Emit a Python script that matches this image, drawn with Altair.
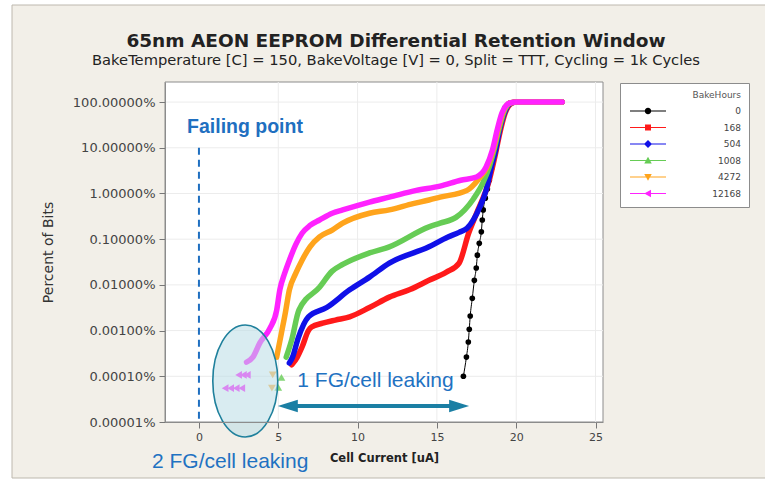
import altair as alt
import pandas as pd

# ---- series: cell current [uA] vs cumulative percent of bits ----
HOURS = ["0", "168", "504", "1008", "4272", "12168"]
COLORS = ["#000000", "#ff1a1a", "#1010e8", "#66cc55", "#ffa41c", "#ff22ff"]

x_0 = [16.67, 16.86, 16.98, 17.04, 17.10, 17.23, 17.36, 17.48, 17.55, 17.67, 17.80, 17.86,
       17.92, 18.05, 18.18, 18.30, 18.45, 18.60, 18.75, 18.90, 19.10, 19.30, 19.60]
p_0 = [1.0e-4, 2.63e-4, 5.62e-4, 1.07e-3, 2.09e-3, 5.1e-3, 0.0126, 0.0234, 0.0447, 0.081,
       0.145, 0.263, 0.437, 0.79, 1.26, 1.95, 3.55, 7.1, 14.1, 26.3, 50, 76, 95.5]

x_168 = [5.85, 6.2, 6.5, 6.9, 7.1, 7.8, 8.6, 9.5, 10.75, 12.0, 13.3, 14.5, 15.6, 16.4, 17.0,
         17.5, 18.3, 18.65, 18.95, 19.3, 19.75, 20.0, 22.9]
p_168 = [1.78e-4, 2.63e-4, 4.37e-4, 1.0e-3, 1.2e-3, 1.45e-3, 1.7e-3, 2.0e-3, 3.2e-3, 5.4e-3,
         7.9e-3, 0.0126, 0.019, 0.030, 0.135, 0.37, 1.95, 6.3, 20, 57.5, 95.5, 100, 100]

x_504 = [5.7, 5.9, 6.25, 6.9, 8.05, 9.5, 10.75, 12.0, 14.5, 15.7, 16.4, 16.9, 17.7, 18.1,
         18.45, 18.7, 18.95, 19.25, 19.7, 20.0, 22.9]
p_504 = [1.95e-4, 2.63e-4, 6.76e-4, 2.0e-3, 3.2e-3, 7.8e-3, 0.0148, 0.030, 0.068, 0.112,
         0.141, 0.174, 0.5, 1.17, 4.0, 8.9, 24.5, 57.5, 95.5, 100, 100]

x_1008 = [5.5, 5.85, 6.3, 7.6, 8.4, 9.06, 10.75, 12.0, 14.5, 15.2, 16.2, 17.3, 17.9, 18.3,
          18.6, 18.9, 19.2, 19.65, 20.0, 22.9]
p_1008 = [2.63e-4, 6.3e-4, 2.8e-3, 8.9e-3, 0.020, 0.028, 0.05, 0.068, 0.186, 0.224, 0.30,
          0.76, 1.7, 3.8, 8.9, 24.5, 57.5, 95.5, 100, 100]

x_4272 = [4.9, 5.2, 5.45, 5.7, 6.1, 6.5, 7.0, 7.6, 8.4, 9.06, 10.75, 12.0, 13.5, 14.5, 15.2,
          16.9, 17.6, 18.2, 18.55, 18.85, 19.15, 19.6, 20.0, 22.9]
p_4272 = [2.63e-4, 8.9e-4, 2.5e-3, 7.8e-3, 0.0178, 0.0347, 0.068, 0.112, 0.158, 0.224, 0.37,
          0.437, 0.6, 0.72, 0.83, 1.17, 2.0, 4.0, 8.9, 24.5, 57.5, 95.5, 100, 100]

x_12168 = [3.0, 3.4, 3.84, 4.47, 4.9, 5.1, 5.4, 5.7, 6.1, 6.5, 7.0, 7.6, 8.4, 9.06, 10.75,
           12.0, 13.7, 15.2, 16.5, 17.5, 18.1, 18.5, 18.8, 19.1, 19.6, 20.0, 22.9]
p_12168 = [2.04e-4, 2.63e-4, 5.37e-4, 1.12e-3, 2.8e-3, 7.8e-3, 0.0178, 0.0347, 0.076, 0.135,
           0.2, 0.263, 0.37, 0.437, 0.65, 0.83, 1.17, 1.45, 1.95, 2.3, 3.8, 8.9, 24.5, 57.5,
           95.5, 100, 100]

# isolated low-tail bits (drawn as symbols only)
tail_x_12168 = [2.5, 2.8, 3.05, 1.65, 2.0, 2.35, 2.7]
tail_p_12168 = [1.07e-4, 1.07e-4, 1.07e-4, 5.5e-5, 5.5e-5, 5.5e-5, 5.5e-5]
tail_x_4272 = [4.65, 4.6]
tail_p_4272 = [1.07e-4, 5.5e-5]
tail_x_1008 = [5.2, 5.0]
tail_p_1008 = [9.5e-5, 5.75e-5]

X_TICKS = [0, 5, 10, 15, 20, 25]
Y_TICKS = [1e-5, 1e-4, 1e-3, 1e-2, 1e-1, 1, 10, 100]

TITLE = "65nm AEON EEPROM Differential Retention Window"
SUBTITLE = "BakeTemperature [C] = 150, BakeVoltage [V] = 0, Split = TTT, Cycling = 1k Cycles"

SERIES = {"0": (x_0, p_0), "168": (x_168, p_168), "504": (x_504, p_504),
          "1008": (x_1008, p_1008), "4272": (x_4272, p_4272), "12168": (x_12168, p_12168)}

rows = []
for h in HOURS:
    xs, ps = SERIES[h]
    for i, (xv, pv) in enumerate(zip(xs, ps)):
        rows.append({"BakeHours": h, "i": i, "current": xv, "pct": pv})
df = pd.DataFrame(rows)

W, H = 438, 340
FONT = "DejaVu Sans"
ANN = "Liberation Sans"
BLUE_TXT = "#1f72c2"
TEAL = "#1b7fa4"

xscale = alt.Scale(domain=[-2.14, 25.47], nice=False, zero=False)
yscale = alt.Scale(type="log", domain=[1e-5, 275], nice=False)

x_axis = alt.Axis(values=X_TICKS, format="d", grid=False, zindex=1, labelFont=FONT,
                  labelFontSize=11, labelColor="#444", tickSize=6, tickColor="#777",
                  domainColor="#8c8c8c", labelPadding=3, title="Cell Current [uA]",
                  titleFont=FONT, titleFontSize=11.5, titleFontWeight="bold",
                  titleColor="#222", titleY=36, titleBaseline="middle")
y_axis = alt.Axis(values=Y_TICKS, labelExpr="format(datum.value, '.5f') + '%'", grid=False,
                  zindex=1, labelFont=FONT, labelFontSize=13, labelColor="#444",
                  tickSize=6, tickColor="#777", domainColor="#8c8c8c", labelPadding=4,
                  title="Percent of Bits", titleFont=FONT, titleFontSize=14,
                  titleFontWeight="normal", titleColor="#333", titleX=-117, titleY=H / 2,
                  titleAngle=-90, titleAlign="center", titleBaseline="middle")


def X():
    return alt.X("current:Q", scale=xscale, axis=x_axis)


def Y():
    return alt.Y("pct:Q", scale=yscale, axis=y_axis)


one = pd.DataFrame({"k": [0]})

# background frame and plot panel
frame = alt.Chart(one).mark_rect(fill="#f2efe8", stroke="#bdb8ae", strokeWidth=1).encode(
    x=alt.value(12 - 165), x2=alt.value(765 - 165 + 5),
    y=alt.value(5 - 82), y2=alt.value(478 - 82))
panel = alt.Chart(one).mark_rect(fill="white", stroke="#8c8c8c", strokeWidth=1).encode(
    x=alt.value(0), x2=alt.value(W), y=alt.value(0), y2=alt.value(H))

titles = alt.Chart(pd.DataFrame({"t": [TITLE], "s": [SUBTITLE]}))
t_main = titles.mark_text(font=FONT, fontSize=18.5, fontWeight="bold", color="#222",
                          baseline="middle").encode(
    x=alt.value(396 - 165), y=alt.value(41 - 82), text="t:N")
t_sub = titles.mark_text(font=FONT, fontSize=14.7, color="#222", baseline="middle").encode(
    x=alt.value(396 - 165), y=alt.value(61 - 82), text="s:N")

gx = alt.Chart(pd.DataFrame({"current": X_TICKS[1:]})).mark_rule(
    color="#ececec", strokeWidth=1).encode(x=X())
gy = alt.Chart(pd.DataFrame({"pct": Y_TICKS[1:]})).mark_rule(
    color="#ececec", strokeWidth=1).encode(y=Y())

fail = alt.Chart(pd.DataFrame({"current": [0], "pct": [10], "pct2": [1e-5]})).mark_rule(
    color="#1f6fc0", strokeWidth=2, strokeDash=[7, 5]).encode(
    x=X(), y=Y(), y2="pct2:Q")

layers = [frame, panel, t_main, t_sub, gx, gy, fail]

for h, c in zip(HOURS, COLORS):
    d = df[df.BakeHours == h]
    base = alt.Chart(d)
    if h == "0":
        layers.append(base.mark_line(color=c, strokeWidth=1, interpolate="monotone").encode(
            x=X(), y=Y(), order="i:Q"))
        layers.append(base.mark_point(shape="circle", filled=True, size=32, color=c,
                                      opacity=1).encode(x=X(), y=Y()))
    else:
        layers.append(base.mark_line(color=c, strokeWidth=5.5, strokeCap="round",
                                     strokeJoin="round", interpolate="monotone").encode(
            x=X(), y=Y(), order="i:Q"))

tails = [("1008", tail_x_1008, tail_p_1008, "triangle-up", 0.8),
         ("4272", tail_x_4272, tail_p_4272, "triangle-down", 0.8),
         ("12168", tail_x_12168, tail_p_12168, "triangle-left", 1.0)]
for h, tx, tp, shp, op in tails:
    c = COLORS[HOURS.index(h)]
    layers.append(alt.Chart(pd.DataFrame({"current": tx, "pct": tp})).mark_point(
        shape=shp, filled=True, size=60, color=c, opacity=op).encode(x=X(), y=Y()))

# highlighted leakage region
ELLIPSE = "M-0.58,0A0.58,1,0,1,1,0.58,0A0.58,1,0,1,1,-0.58,0Z"
ellipse = alt.Chart(pd.DataFrame({"current": [2.92], "pct": [7.9e-5]})).mark_point(
    shape=ELLIPSE, size=12544, filled=True, fill="#b9dce6", fillOpacity=0.55,
    stroke="#1f809c", strokeWidth=1.6, strokeOpacity=1, opacity=1).encode(x=X(), y=Y())
layers.append(ellipse)

# double-headed arrow spanning the single-leak window
arrow_y = 2.24e-5
arrow = alt.Chart(pd.DataFrame({"current": [5.6], "c2": [16.4], "pct": [arrow_y]})).mark_rule(
    color=TEAL, strokeWidth=4).encode(x=X(), x2="c2:Q", y=Y())
head_l = alt.Chart(pd.DataFrame({"current": [5.6], "pct": [arrow_y]})).mark_point(
    shape="M-1,0L1,-0.62L1,0.62Z", size=400, filled=True, color=TEAL, opacity=1).encode(x=X(), y=Y())
head_r = alt.Chart(pd.DataFrame({"current": [16.4], "pct": [arrow_y]})).mark_point(
    shape="M1,0L-1,-0.62L-1,0.62Z", size=400, filled=True, color=TEAL, opacity=1).encode(x=X(), y=Y())
layers += [arrow, head_l, head_r]

notes = pd.DataFrame({
    "current": [-0.75, 6.2, -2.96],
    "pct": [28, 7.9e-5, 1.3e-6],
    "label": ["Failing point", "1 FG/cell leaking", "2 FG/cell leaking"],
})
t_fail = alt.Chart(notes.iloc[[0]]).mark_text(
    align="left", baseline="middle", font=ANN, fontSize=19.5, fontWeight="bold",
    color="#1f6fc0").encode(x=X(), y=Y(), text="label:N")
t_leak = alt.Chart(notes.iloc[[1, 2]]).mark_text(
    align="left", baseline="middle", font=ANN, fontSize=21, color=BLUE_TXT).encode(
    x=X(), y=Y(), text="label:N")
layers += [t_fail, t_leak]

# legend entries: thin line through a filled marker
LINE = "M-3.6,-0.1H3.6V0.1H-3.6Z"
LEG_SHAPES = [
    LINE + "M-0.65,0A0.65,0.65,0,1,1,0.65,0A0.65,0.65,0,1,1,-0.65,0Z",
    LINE + "M-0.6,-0.6H0.6V0.6H-0.6Z",
    LINE + "M0,-0.8L0.8,0L0,0.8L-0.8,0Z",
    LINE + "M0,-0.75L0.75,0.6H-0.75Z",
    LINE + "M-0.75,-0.6H0.75L0,0.75Z",
    LINE + "M-0.75,0L0.6,-0.75V0.75Z",
]
leg = alt.Legend(title="BakeHours", orient="none", legendX=455, legendY=1,
                 fillColor="white", strokeColor="#8c8c8c", padding=8,
                 titleFont=FONT, titleFontSize=9, titleFontWeight="normal", titleColor="#555",
                 titleAnchor="end", titleAlign="right", titlePadding=6,
                 labelFont=FONT, labelFontSize=9, labelColor="#444", labelAlign="right",
                 labelOffset=88, symbolOffset=15, symbolSize=100, symbolStrokeWidth=0,
                 rowPadding=6.5)
# one key per group, placed below the visible range so only the legend shows it
legend_df = pd.DataFrame({"BakeHours": HOURS, "current": [10.0] * 6, "pct": [1e-9] * 6})
legend_layer = alt.Chart(legend_df).mark_point(filled=True, opacity=1, clip=True).encode(
    x=X(), y=Y(),
    color=alt.Color("BakeHours:N", scale=alt.Scale(domain=HOURS, range=COLORS), legend=leg),
    shape=alt.Shape("BakeHours:N", scale=alt.Scale(domain=HOURS, range=LEG_SHAPES), legend=leg),
)
layers.append(legend_layer)

chart = alt.layer(*layers).properties(
    width=W, height=H,
    autosize=alt.AutoSizeParams(type="none"),
    padding={"left": 165, "top": 82, "right": 765 - 165 - W, "bottom": 481 - 82 - H},
).configure(background="white").configure_view(stroke=None, fill="white")

chart.save("out.html", embed_options={"renderer": "svg", "actions": False})
